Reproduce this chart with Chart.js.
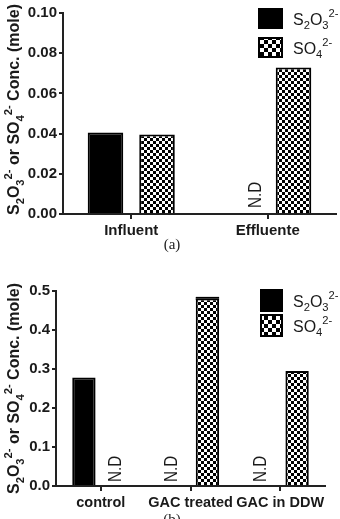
<!DOCTYPE html>
<html>
<head>
<meta charset="utf-8">
<script src="https://cdn.jsdelivr.net/npm/chart.js@4.4.1/dist/chart.umd.min.js"></script>
<style>
  body { margin: 0; background: #fff; width: 340px; height: 519px; overflow: hidden; position: relative; }
  canvas { position: absolute; left: 0; }
  #chartA { top: 0; }
  #chartB { top: 260px; }
  .cap { position: absolute; width: 340px; left: 0; text-align: center; font: 15px "Liberation Serif", serif; color: #222; }
</style>
</head>
<body>
<canvas id="chartA" width="340" height="240"></canvas>
<div class="cap" style="top: 236px; left: 2px;">(a)</div>
<canvas id="chartB" width="340" height="255"></canvas>
<div class="cap" style="top: 511px; left: 2px;">(b)</div>
<script>
// chart (a)
const catsA = ["Influent", "Effluente"];
const thioA = [0.0406, null];
const sulfA = [0.0395, 0.0729];
const errA = [0, 0];
const yMaxA = 0.10, yStepA = 0.02;

// chart (b)
const catsB = ["control", "GAC treated", "GAC in DDW"];
const thioB = [0.278, null, null];
const sulfB = [null, 0.481, 0.295];
const errB = [0, 0.002, 0];
const yMaxB = 0.5, yStepB = 0.1;

const yTitle = "S_2O_3^{2-} or SO_4^{2-} Conc. (mole)";
const legendNames = ["S_2O_3^{2-}", "SO_4^{2-}"];
const FONT = '"Liberation Sans", Arial, sans-serif';
const INK = "#1a1a1a";

function checker(cell) {
    const c = document.createElement("canvas");
    c.width = c.height = cell * 2;
    const g = c.getContext("2d");
    g.fillStyle = "#fff";
    g.fillRect(0, 0, cell * 2, cell * 2);
    g.fillStyle = "#000";
    g.fillRect(0, 0, cell, cell);
    g.fillRect(cell, cell, cell, cell);
    return c.getContext("2d").createPattern(c, "repeat");
}

// tiny parser: _x = subscript char, ^{..} = superscript
function parseRich(s) {
    const out = [];
    let i = 0;
    while (i < s.length) {
        if (s[i] === "_") { out.push({ t: s[i + 1], k: "sub" }); i += 2; }
        else if (s[i] === "^") {
            const j = s.indexOf("}", i);
            out.push({ t: s.slice(i + 2, j), k: "sup" });
            i = j + 1;
        } else { out.push({ t: s[i], k: "n" }); i++; }
    }
    return out;
}

function richWidth(ctx, parts, size, weight) {
    let w = 0;
    parts.forEach(p => {
        const fs = p.k === "n" ? size : size * 0.7;
        ctx.font = `${weight} ${fs}px ${FONT}`;
        w += ctx.measureText(p.t).width;
    });
    return w;
}

function drawRich(ctx, s, x, y, size, weight) {
    const parts = parseRich(s);
    ctx.textBaseline = "alphabetic";
    ctx.textAlign = "left";
    parts.forEach(p => {
        const fs = p.k === "n" ? size : size * 0.7;
        ctx.font = `${weight} ${fs}px ${FONT}`;
        let dy = 0;
        if (p.k === "sub") dy = size * 0.3;
        if (p.k === "sup") dy = -size * 0.45;
        ctx.fillText(p.t, x, y + dy);
        x += ctx.measureText(p.t).width;
    });
    return parts;
}

const extras = {
    id: "extras",
    afterDatasetsDraw(chart, args, o) {
        const ctx = chart.ctx;
        const area = chart.chartArea;
        const yScale = chart.scales.y;
        ctx.save();
        ctx.fillStyle = INK;
        ctx.strokeStyle = "#000";

        // N.D markers for missing values
        chart.data.datasets.forEach((ds, di) => {
            const meta = chart.getDatasetMeta(di);
            ds.data.forEach((v, i) => {
                if (v !== null) return;
                const bar = meta.data[i];
                ctx.save();
                ctx.translate(bar.x + o.ndShift, area.bottom - o.ndGap);
                ctx.rotate(-Math.PI / 2);
                ctx.scale(0.8, 1); // narrow lettering like the original
                ctx.font = `19px ${FONT}`;
                ctx.textAlign = "left";
                ctx.textBaseline = "middle";
                ctx.fillText("N.D", 0, 0);
                ctx.restore();
            });
        });

        // error caps on the sulfate series
        const sMeta = chart.getDatasetMeta(1);
        o.err.forEach((e, i) => {
            const v = chart.data.datasets[1].data[i];
            if (!e || v === null) return;
            const bar = sMeta.data[i];
            const half = bar.width / 2;
            ctx.lineWidth = 1.5;
            [v + e, v - e].forEach(val => {
                const py = yScale.getPixelForValue(val);
                ctx.beginPath();
                ctx.moveTo(bar.x - half, py);
                ctx.lineTo(bar.x + half, py);
                ctx.stroke();
            });
        });

        // y axis title, rotated
        const parts = parseRich(yTitle);
        const tw = richWidth(ctx, parts, 16, "bold");
        ctx.save();
        ctx.translate(19, (area.top + area.bottom) / 2 + o.titleShift);
        ctx.rotate(-Math.PI / 2);
        ctx.fillStyle = INK;
        drawRich(ctx, yTitle, -tw / 2, 0, 16, "bold");
        ctx.restore();

        // legend
        const L = o.legend;
        chart.data.datasets.forEach((ds, di) => {
            const top = L.y + di * (L.h + L.gap);
            ctx.fillStyle = di === 0 ? "#000" : L.pattern;
            ctx.fillRect(L.x, top, L.w, L.h);
            ctx.lineWidth = 2;
            ctx.strokeRect(L.x + 1, top + 1, L.w - 2, L.h - 2);
            ctx.fillStyle = INK;
            drawRich(ctx, legendNames[di], L.x + L.w + 10, top + L.h / 2 + 6, 16, "normal");
        });
        ctx.restore();
    }
};

function makeChart(id, cats, thio, sulf, err, yMax, yStep, digits, lay) {
    const pat = checker(3);
    return new Chart(document.getElementById(id), {
        type: "bar",
        data: {
            labels: cats,
            datasets: [
                { label: "S2O3", data: thio, backgroundColor: "#000", borderColor: "#000", borderWidth: 2 },
                { label: "SO4", data: sulf, backgroundColor: pat, borderColor: "#000", borderWidth: 2 }
            ]
        },
        options: {
            responsive: false,
            animation: false,
            layout: { padding: { top: lay.top, right: lay.right, left: 0, bottom: 0 } },
            datasets: { bar: { categoryPercentage: 0.755, barPercentage: 0.69 } },
            plugins: {
                legend: { display: false },
                tooltip: { enabled: false },
                extras: {
                    ndShift: lay.ndShift, ndGap: lay.ndGap, err: err, titleShift: lay.titleShift,
                    legend: Object.assign({ pattern: checker(4) }, lay.legend)
                }
            },
            scales: {
                x: {
                    afterFit: s => { s.height = lay.xh; },
                    grid: { offset: false, drawOnChartArea: false, tickLength: 5, color: "#222", lineWidth: 2 },
                    border: { color: "#222", width: 2 },
                    ticks: {
                        color: INK, padding: 3, maxRotation: 0, minRotation: 0, autoSkip: false,
                        font: { family: FONT, size: lay.xfs, weight: "bold" }
                    }
                },
                y: {
                    min: 0, max: yMax,
                    afterFit: s => { s.width = lay.yw; },
                    grid: { drawOnChartArea: false, tickLength: 4, color: "#222", lineWidth: 2 },
                    border: { color: "#222", width: 2 },
                    ticks: {
                        stepSize: yStep, color: INK, padding: 2,
                        font: { family: FONT, size: 15, weight: "bold" },
                        callback: v => v.toFixed(digits)
                    }
                }
            }
        },
        plugins: [extras]
    });
}

makeChart("chartA", catsA, thioA, sulfA, errA, yMaxA, yStepA, 2, {
    top: 13, right: 4, xh: 26, yw: 63, xfs: 15, ndShift: 14, ndGap: 6, titleShift: -4,
    legend: { x: 258, y: 8, w: 25, h: 21, gap: 8 }
});
makeChart("chartB", catsB, thioB, sulfB, errB, yMaxB, yStepB, 1, {
    top: 31, right: 15, xh: 29, yw: 56, xfs: 14.5, ndShift: -2, ndGap: 4, titleShift: 0,
    legend: { x: 260, y: 29, w: 23, h: 23, gap: 2 }
});
</script>
</body>
</html>
